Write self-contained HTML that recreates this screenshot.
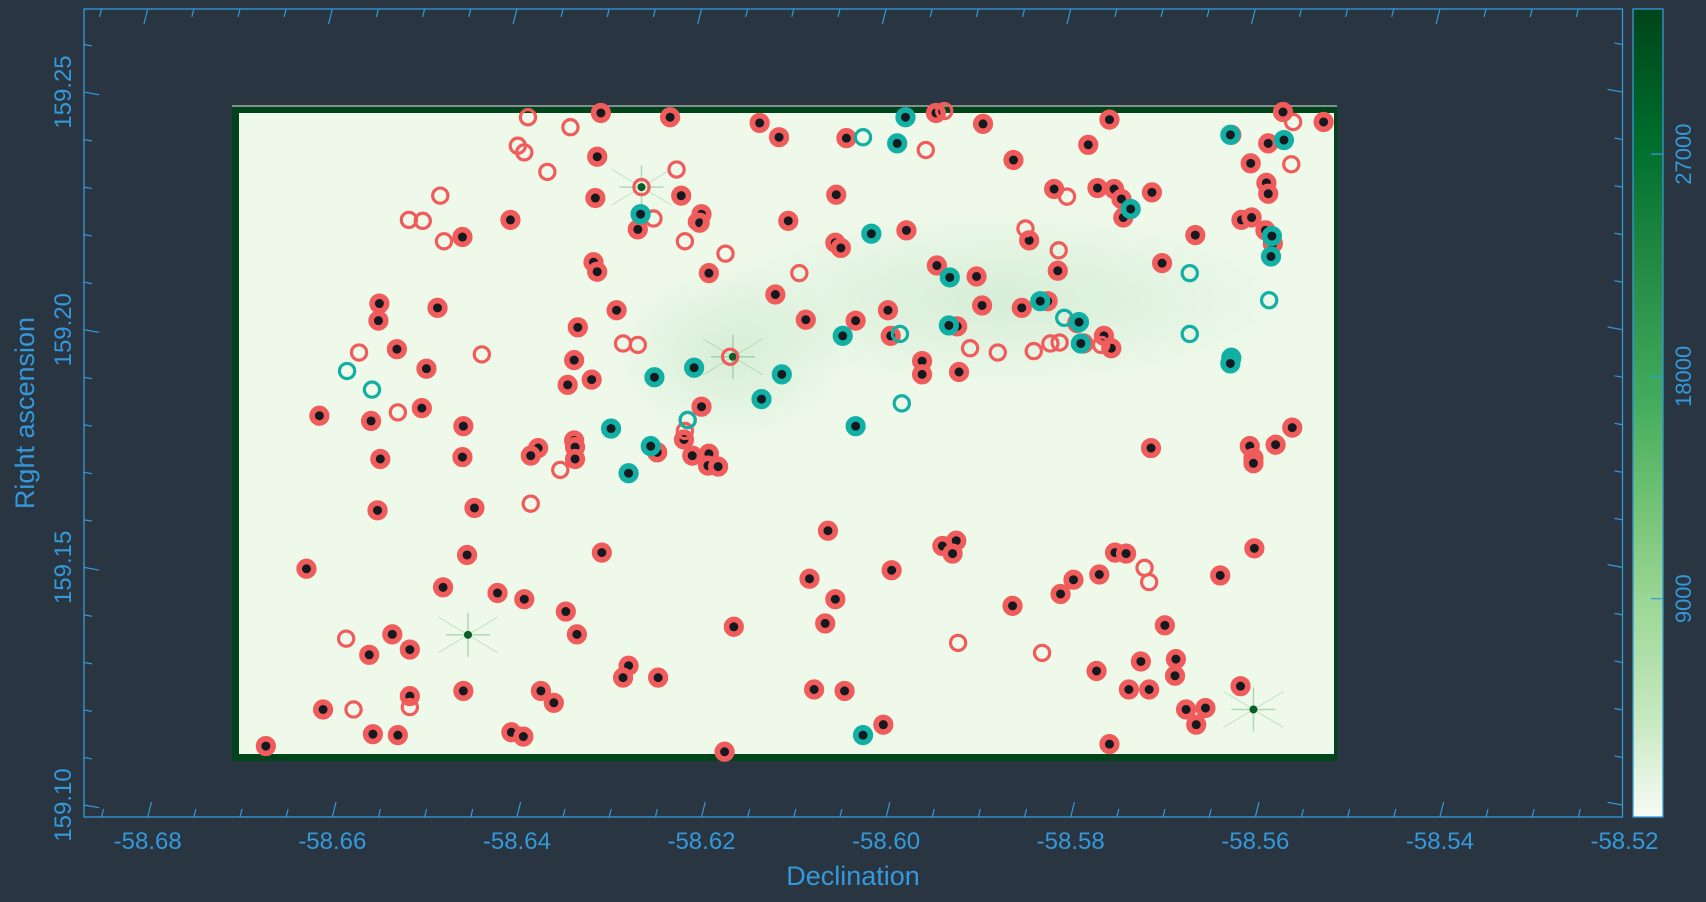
<!DOCTYPE html>
<html><head><meta charset="utf-8"><style>
html,body{margin:0;padding:0;background:#293642;}
svg{display:block;font-family:"Liberation Sans",sans-serif;}
</style></head><body>
<svg id="chart" width="1706" height="902" viewBox="0 0 1706 902">
<defs>
<linearGradient id="cbgrad" x1="0" y1="1" x2="0" y2="0">
<stop offset="0" stop-color="#f7fcf5"/><stop offset="0.12" stop-color="#c7e9c0"/>
<stop offset="0.25" stop-color="#a1d99b"/><stop offset="0.38" stop-color="#74c476"/>
<stop offset="0.52" stop-color="#41ab5d"/><stop offset="0.68" stop-color="#238b45"/>
<stop offset="0.84" stop-color="#006d2c"/><stop offset="1" stop-color="#00441b"/>
</linearGradient>
<radialGradient id="glow" cx="0.5" cy="0.5" r="0.5">
<stop offset="0" stop-color="#2a9a4a" stop-opacity="0.12"/><stop offset="1" stop-color="#2a9a4a" stop-opacity="0"/>
</radialGradient>
</defs>
<rect x="0" y="0" width="1706" height="902" fill="#293642"/>
<g id="image">
<rect x="232" y="106" width="1105" height="655" fill="#00441b"/>
<line x1="232" y1="106" x2="1337" y2="106" stroke="#aaa" stroke-width="1.5"/>
<rect x="239" y="113" width="1095" height="641" fill="#eef9ea"/>
<ellipse cx="1000" cy="300" rx="300" ry="90" fill="url(#glow)"/>
<ellipse cx="730" cy="355" rx="120" ry="90" fill="url(#glow)"/>
</g>
<g id="stars"></g>
<g id="frame"></g>
<g id="marks"></g>
<g id="cbar"></g>
<text x="853" y="885" text-anchor="middle" font-size="27" fill="#3498db">Declination</text>
<text transform="translate(34,413) rotate(-90)" text-anchor="middle" font-size="27" fill="#3498db">Right ascension</text>
</svg>
<script>
const xTickValues = [-58.68,-58.66,-58.64,-58.62,-58.60,-58.58,-58.56,-58.54,-58.52];
const yTickValues = [159.10,159.15,159.20,159.25];
const cbTickValues = [9000,18000,27000];
const starDec = [-58.6453,-58.5602,-58.6166,-58.6265];
const starRa  = [159.1358,159.1201,159.1943,159.2300];

const redFilledDec = [-58.6309,-58.6234,-58.6137,-58.6116,-58.5946,-58.5895,-58.5758,-58.5570,-58.5526,-58.6043,-58.5781,-58.5626,-58.5586,-58.5605,-58.5862,-58.6313,-58.5771,-58.5753,-58.5745,-58.5743,-58.5712,-58.5818,-58.5588,-58.5586,-58.6054,-58.6315,-58.6222,-58.6200,-58.6202,-58.6269,-58.6459,-58.6407,-58.6106,-58.5665,-58.5615,-58.5604,-58.5589,-58.5581,-58.5845,-58.5814,-58.6055,-58.6049,-58.5978,-58.6192,-58.6317,-58.6313,-58.5945,-58.5902,-58.5701,-58.6120,-58.6549,-58.6550,-58.6486,-58.6292,-58.6334,-58.6087,-58.6033,-58.5998,-58.5995,-58.5923,-58.5896,-58.5853,-58.5825,-58.5793,-58.5786,-58.5764,-58.5756,-58.5961,-58.5961,-58.5921,-58.6530,-58.6498,-58.6338,-58.6319,-58.6345,-58.6200,-58.6219,-58.6503,-58.6614,-58.6558,-58.6458,-58.6338,-58.6337,-58.6337,-58.6377,-58.6385,-58.6548,-58.6459,-58.6248,-58.6210,-58.6192,-58.6193,-58.6182,-58.5713,-58.5606,-58.5602,-58.5602,-58.5578,-58.5560,-58.6551,-58.6446,-58.6308,-58.6454,-58.6628,-58.6480,-58.6421,-58.6392,-58.6347,-58.6063,-58.6083,-58.6055,-58.5994,-58.5939,-58.5924,-58.5928,-58.5752,-58.5740,-58.5769,-58.5797,-58.5811,-58.5638,-58.5601,-58.5863,-58.5698,-58.6165,-58.6066,-58.6535,-58.6335,-58.6560,-58.6516,-58.6279,-58.6285,-58.6247,-58.5772,-58.5724,-58.5686,-58.5687,-58.6458,-58.6516,-58.6610,-58.6374,-58.6360,-58.6078,-58.6045,-58.5737,-58.5715,-58.5616,-58.5675,-58.5654,-58.5664,-58.6003,-58.6406,-58.6393,-58.6556,-58.6529,-58.6672,-58.6175,-58.5758];
const redFilledRa = [159.2456,159.2447,159.2435,159.2405,159.2456,159.2433,159.2442,159.2458,159.2437,159.2403,159.2389,159.2410,159.2392,159.2350,159.2357,159.2364,159.2298,159.2296,159.2275,159.2236,159.2289,159.2296,159.2309,159.2286,159.2284,159.2277,159.2282,159.2243,159.2225,159.2211,159.2195,159.2231,159.2229,159.2199,159.2231,159.2236,159.2209,159.2181,159.2188,159.2124,159.2183,159.2172,159.2209,159.2119,159.2142,159.2122,159.2135,159.2112,159.2140,159.2074,159.2055,159.2019,159.2046,159.2041,159.2005,159.2021,159.2019,159.2041,159.1987,159.2007,159.2051,159.2046,159.2060,159.2014,159.1971,159.1987,159.1961,159.1934,159.1906,159.1911,159.1959,159.1918,159.1936,159.1895,159.1884,159.1838,159.1769,159.1835,159.1819,159.1808,159.1797,159.1767,159.1753,159.1728,159.1751,159.1735,159.1728,159.1732,159.1742,159.1735,159.1739,159.1714,159.1712,159.1751,159.1755,159.1730,159.1719,159.1758,159.1794,159.1620,159.1625,159.1531,159.1526,159.1497,159.1458,159.1446,159.1433,159.1407,159.1577,159.1476,159.1433,159.1494,159.1545,159.1556,159.1529,159.1531,159.1529,159.1485,159.1474,159.1444,159.1483,159.1540,159.1419,159.1378,159.1375,159.1382,159.1359,159.1359,159.1316,159.1327,159.1293,159.1268,159.1268,159.1282,159.1302,159.1307,159.1272,159.1240,159.1229,159.1201,159.1240,159.1215,159.1243,159.1240,159.1243,159.1243,159.1250,159.1201,159.1204,159.1169,159.1169,159.1153,159.1144,159.1149,159.1147,159.1124,159.1112,159.1128];

const redOpenDec = [-58.6388,-58.6342,-58.5937,-58.5559,-58.5957,-58.5561,-58.6399,-58.6392,-58.6367,-58.6265,-58.6227,-58.5804,-58.6205,-58.6252,-58.6517,-58.6502,-58.6483,-58.6479,-58.5849,-58.5813,-58.6218,-58.6174,-58.6094,-58.5840,-58.5822,-58.5812,-58.5767,-58.5909,-58.5879,-58.6571,-58.6438,-58.6285,-58.6269,-58.6169,-58.6215,-58.6218,-58.6529,-58.6353,-58.6385,-58.5720,-58.5715,-58.6585,-58.5922,-58.5831,-58.6516,-58.6577];
const redOpenRa = [159.2447,159.2426,159.2460,159.2437,159.2378,159.2348,159.2387,159.2373,159.2332,159.2300,159.2337,159.2280,159.2227,159.2234,159.2231,159.2229,159.2282,159.2186,159.2213,159.2167,159.2186,159.2160,159.2119,159.1955,159.1971,159.1973,159.1968,159.1961,159.1952,159.1952,159.1948,159.1971,159.1968,159.1943,159.1810,159.1787,159.1826,159.1705,159.1634,159.1499,159.1469,159.1350,159.1341,159.1320,159.1206,159.1201];

const tealFilledDec = [-58.5979,-58.5988,-58.5627,-58.5569,-58.5735,-58.6266,-58.5582,-58.5583,-58.6016,-58.5931,-58.6047,-58.5932,-58.5833,-58.5791,-58.5789,-58.5626,-58.5627,-58.6208,-58.6251,-58.6113,-58.6135,-58.6033,-58.6298,-58.6279,-58.6255,-58.6025];
const tealFilledRa = [159.2447,159.2392,159.2410,159.2399,159.2254,159.2243,159.2197,159.2154,159.2202,159.2110,159.1987,159.2009,159.2060,159.2016,159.1971,159.1941,159.1929,159.1920,159.1900,159.1906,159.1854,159.1797,159.1792,159.1698,159.1755,159.1147];

const tealOpenDec = [-58.6025,-58.5671,-58.5585,-58.5985,-58.5807,-58.5671,-58.6584,-58.6557,-58.5983,-58.6215];
const tealOpenRa = [159.2405,159.2119,159.2062,159.1991,159.2025,159.1991,159.1913,159.1874,159.1845,159.1810];

const NS = 'http://www.w3.org/2000/svg';
const PX = {left:84, right:1622.5, top:9, bottom:817};
function xScale(d){ return 147.7 + (d + 58.68) * 9230; }
function yScale(r){ return 805 - (r - 159.10) * 4753; }
function cbScale(v){ return 821 - v / 9000 * 222.3; }
const AXIS = '#3498db';
function mk(tag, attrs, parent){ const e=document.createElementNS(NS,tag); for(const k in attrs) e.setAttribute(k, attrs[k]); parent.appendChild(e); return e; }

const stars = document.getElementById('stars');
for (let i=0;i<starDec.length;i++){
  const cx=xScale(starDec[i]), cy=yScale(starRa[i]);
  const g = mk('g',{},stars);
  
  
  mk('line',{x1:cx-22,y1:cy,x2:cx+22,y2:cy,stroke:'#3d9e55','stroke-width':1.5,opacity:0.35},g);
  mk('line',{x1:cx,y1:cy-22,x2:cx,y2:cy+22,stroke:'#3d9e55','stroke-width':1.5,opacity:0.35},g);
  mk('line',{x1:cx-30,y1:cy-18,x2:cx+30,y2:cy+18,stroke:'#3d9e55','stroke-width':1,opacity:0.25},g);
  mk('line',{x1:cx-30,y1:cy+18,x2:cx+30,y2:cy-18,stroke:'#3d9e55','stroke-width':1,opacity:0.25},g);
  mk('circle',{cx:cx,cy:cy,r:4,fill:'#0b5e28'},g);
}

const frame = document.getElementById('frame');
const fr = mk('rect',{x:PX.left,y:PX.top,width:PX.right-PX.left,height:PX.bottom-PX.top,fill:'none',stroke:AXIS,'stroke-width':1.3},frame);


const xMinor = [];
for (let d=-58.685; d<=-58.5199; d+=0.005) xMinor.push(Math.round(d*1000)/1000);
xMinor.forEach(d=>{
  const x=xScale(d); if (x<PX.left+2||x>PX.right-1) return;
  const major = Math.abs(Math.round(d*1000)%20)===0;
  const L = major?15:8;
  const t1=mk('line',{x1:x,y1:PX.bottom,x2:x+L*0.25,y2:PX.bottom-L,stroke:AXIS,'stroke-width':1.2},frame);
  
  
  const t2=mk('line',{x1:x,y1:PX.top,x2:x-L*0.25,y2:PX.top+L,stroke:AXIS,'stroke-width':1.2},frame);
  
  
});
for (let k=-1;k<=17;k++){
  const r = 159.10 + k*0.01; const y=yScale(r);
  if (y<PX.top+2||y>PX.bottom-2) continue;
  const major = k%5===0; const L = major?15:8;
  const t1=mk('line',{x1:PX.left,y1:y,x2:PX.left+L,y2:y+L*0.18,stroke:AXIS,'stroke-width':1.2},frame);
  
  
  const t2=mk('line',{x1:PX.right,y1:y,x2:PX.right-L,y2:y-L*0.18,stroke:AXIS,'stroke-width':1.2},frame);
  
  
}
xTickValues.forEach(v=>{
  const t=mk('text',{x:xScale(v),y:849,'text-anchor':'middle','font-size':24,fill:AXIS},frame);
  t.textContent = v.toFixed(2);
  
  
});
yTickValues.forEach(v=>{
  const y=yScale(v);
  const t=mk('text',{transform:`translate(71,${y}) rotate(-90)`,'text-anchor':'middle','font-size':24,fill:AXIS},frame);
  t.textContent = v.toFixed(2);
  
  
});

const marks = document.getElementById('marks');
function drawSet(dec, ra, color, filled, name){
  for (let i=0;i<dec.length;i++){
    const c = mk('circle',{cx:xScale(dec[i]),cy:yScale(ra[i]),r:filled?7.3:7.6,fill:filled?'#141a1f':'none',stroke:color,'stroke-width':filled?5.6:3.2},marks);
    
    
  }
}
drawSet(redFilledDec, redFilledRa, '#f05b5b', true, 'red-filled-marker');
drawSet(redOpenDec, redOpenRa, '#f05b5b', false, 'red-open-marker');
drawSet(tealFilledDec, tealFilledRa, '#12b0a4', true, 'teal-filled-marker');
drawSet(tealOpenDec, tealOpenRa, '#12b0a4', false, 'teal-open-marker');

const cb = document.getElementById('cbar');
const cbr = mk('rect',{x:1633,y:9,width:30,height:808,fill:'url(#cbgrad)',stroke:AXIS,'stroke-width':1.3},cb);


cbTickValues.forEach(v=>{
  const y=cbScale(v);
  const l=mk('line',{x1:1651,y1:y,x2:1663,y2:y,stroke:AXIS,'stroke-width':1.2},cb);
  
  
  const t=mk('text',{transform:`translate(1691,${y}) rotate(-90)`,'text-anchor':'middle','font-size':22,fill:AXIS},cb);
  t.textContent = String(v);
  
  
});
</script>
</body></html>
